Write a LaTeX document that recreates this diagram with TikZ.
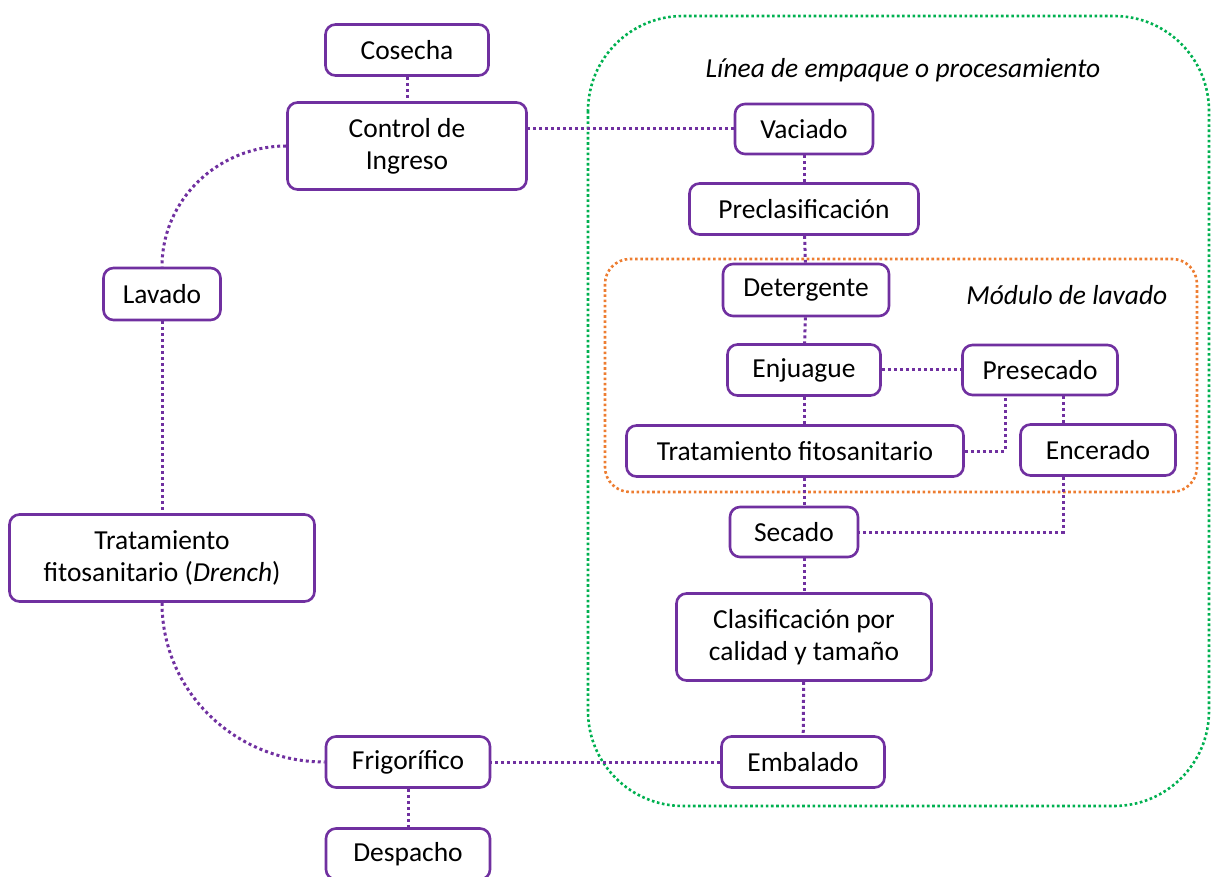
\documentclass[tikz,border=0pt]{standalone}
\usepackage{fontspec}
\setmainfont{Carlito}
\usepackage{tikz}

\newdimen\pxu
\pxu=0.75pt

\definecolor{morado}{HTML}{7030A0}
\definecolor{naranja}{HTML}{ED7D31}
\definecolor{verde}{HTML}{00B050}

\tikzset{
  etapa/.style={draw=morado, line width=2.6\pxu, rounded corners=10\pxu, fill=white,
    inner sep=0pt, align=center, font=\fontsize{20.6}{24}\selectfont},
  enlace/.style={draw=morado, line width=3\pxu, dash pattern=on 3\pxu off 3\pxu},
  grupo/.style={line width=2.6\pxu, dash pattern=on 2.6\pxu off 2.6\pxu}
}

\begin{document}
\begin{tikzpicture}[x=0.75pt, y=-0.75pt]
\useasboundingbox (0,0) rectangle (1211,877);

% zonas
\draw[grupo, draw=verde, rounded corners=95\pxu] (588,16) rectangle (1209,806);
\draw[grupo, draw=naranja, rounded corners=25\pxu] (605,259) rectangle (1197,492);
\node (Linea) at (903,70) {\fontsize{20.6}{24}\selectfont\itshape Línea de empaque o procesamiento};
\node[anchor=east] (Modulo) at (1172,295) {\fontsize{20.6}{24}\selectfont\itshape Módulo de lavado};

% lado izquierdo
\node[etapa, minimum width=163\pxu, minimum height=51\pxu](Cos) at (407,50) {Cosecha};
\node[etapa, minimum width=239\pxu, minimum height=87\pxu](Ctrl) at (407,146) {Control de\\Ingreso};
\node[etapa, minimum width=117\pxu, minimum height=52\pxu](Lav) at (162,294) {Lavado};
\node[etapa, minimum width=305\pxu, minimum height=87\pxu](Dren) at (162,558) {Tratamiento\\fitosanitario (\textit{Drench})};
\node[etapa, minimum width=164\pxu, minimum height=51\pxu](Frig) at (408,762) {Frigorífico};
\node[etapa, minimum width=164\pxu, minimum height=51\pxu](Desp) at (408,854) {Despacho};

% linea de empaque
\node[etapa, minimum width=138\pxu, minimum height=50\pxu](Vac) at (804,129) {Vaciado};
\node[etapa, minimum width=229\pxu, minimum height=51\pxu](Prec) at (804,209) {Preclasificación};
\node[etapa, minimum width=166\pxu, minimum height=52\pxu](Det) at (806,290) {Detergente};
\node[etapa, minimum width=153\pxu, minimum height=51\pxu](Enj) at (804,370) {Enjuague};
\node[etapa, minimum width=155\pxu, minimum height=50\pxu](Pres) at (1040,370) {Presecado};
\node[etapa, minimum width=337\pxu, minimum height=51\pxu](Trat) at (795,451) {Tratamiento fitosanitario};
\node[etapa, minimum width=155\pxu, minimum height=51\pxu](Enc) at (1098,450) {Encerado};
\node[etapa, minimum width=128\pxu, minimum height=50\pxu](Sec) at (794,532) {Secado};
\node[etapa, minimum width=255\pxu, minimum height=87\pxu](Clas) at (804,637) {Clasificación por\\calidad y tamaño};
\node[etapa, minimum width=163\pxu, minimum height=51\pxu](Emb) at (803,762) {Embalado};

\draw[enlace](Cos) to (Ctrl);
\draw[enlace](Vac.west) to (Vac.west -| Ctrl.east);
\draw[enlace](Ctrl.west) to[out=180, in=90] (Lav.north);
\draw[enlace](Lav) to (Dren);
\draw[enlace](Dren.south) to[out=-90, in=180] (Frig.west);
\draw[enlace](Frig) to (Desp);
\draw[enlace](Emb) to (Frig);

\draw[enlace](Vac) to (Prec);
\draw[enlace](Prec) to (Det);
\draw[enlace](Det) to (Enj);
\draw[enlace](Enj) to (Pres);
\draw[enlace](Enj.south) to (Enj.south |- Trat.north);
\draw[enlace](Trat.east) -| ([xshift=-35\pxu]Pres.south);
\draw[enlace]([xshift=-35\pxu]Enc.north) to ([xshift=-35\pxu]Enc.north |- Pres.south);
\draw[enlace]([xshift=-35\pxu]Enc.south) |- (Sec.east);
\draw[enlace](Enj.south |- Trat.south) to (Enj.south |- Sec.north);
\draw[enlace](Clas.north |- Sec.south) to (Clas.north);
\draw[enlace](Clas) to (Emb);
\end{tikzpicture}
\end{document}
